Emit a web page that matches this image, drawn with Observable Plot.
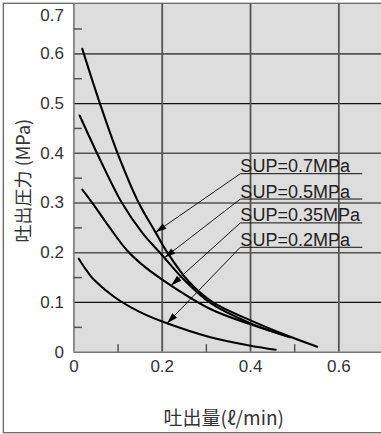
<!DOCTYPE html>
<html>
<head>
<meta charset="utf-8">
<script src="https://cdn.jsdelivr.net/npm/d3@7"></script>
<script src="https://cdn.jsdelivr.net/npm/@observablehq/plot@0.6"></script>
<style>
  html, body { margin: 0; padding: 0; background: #fff; }
  #chart { width: 381px; height: 434px; overflow: hidden; }
</style>
</head>
<body>
<div id="chart"></div>
<script>
// ---- data ----
const sup07 = [[0.019,0.61],[0.059,0.50],[0.099,0.40],[0.147,0.30],[0.185,0.241],[0.212,0.20],[0.26,0.142],[0.315,0.10],[0.40,0.064],[0.49,0.031],[0.551,0.011]];
const sup05 = [[0.013,0.476],[0.060,0.386],[0.109,0.30],[0.155,0.24],[0.195,0.20],[0.25,0.145],[0.309,0.099],[0.40,0.058],[0.49,0.030]];
const sup035 = [[0.019,0.327],[0.042,0.30],[0.08,0.252],[0.12,0.205],[0.16,0.172],[0.22,0.134],[0.309,0.087],[0.40,0.056],[0.49,0.030]];
const sup02 = [[0.011,0.188],[0.029,0.164],[0.045,0.146],[0.09,0.112],[0.151,0.080],[0.211,0.058],[0.309,0.030],[0.40,0.013],[0.457,0.005]];
const seriesNames = ["SUP=0.7MPa","SUP=0.5MPa","SUP=0.35MPa","SUP=0.2MPa"];
const seriesData = [sup07, sup05, sup035, sup02];
const labelX = 0.377, labelX2 = 0.653;
const labelY = [0.359, 0.308, 0.260, 0.211];
const tipX = [0.185, 0.205, 0.220, 0.211];
const tipY = [0.241, 0.190, 0.134, 0.058];
const yMajor = [0, 0.1, 0.2, 0.3, 0.4, 0.5, 0.6];
const yTop = [0.7];
const yMinor = [0.05, 0.15, 0.25, 0.35, 0.45, 0.55, 0.65];
const xMajor = [0, 0.2, 0.4, 0.6];
const xMinor = [0.1, 0.3, 0.5];
const gridBlack = [0.1, 0.3, 0.5];
const gridGrayY = [0.2, 0.4, 0.6];
const gridGrayX = [0.2, 0.4, 0.6];
const xTitle = "吐出量(ℓ/min)";
const yTitle = "吐出圧力 (MPa)";

// ---- layout ----
const W = 381, H = 434;
const xDom = [0, 0.7], xRng = [73.4, 382.5];
const yDom = [0, 0.7], yRng = [351.7, 3.6];
const sx = d3.scaleLinear(xDom, xRng), sy = d3.scaleLinear(yDom, yRng);
const minorLen = 8; // px

const rows = seriesData.flatMap((s, i) => s.map(([x, y]) => ({series: seriesNames[i], x, y})));
const notes = seriesNames.map((t, i) => ({text: t, x0: labelX, x2: labelX2, y0: labelY[i], x1: tipX[i], y1: tipY[i]}));
const minorYRows = yMinor.map(y => ({x1: 0, x2: sx.invert(sx(0) + minorLen), y}));
const minorXRows = xMinor.map(x => ({x, y1: 0, y2: sy.invert(sy(0) - minorLen)}));

function headSymbol(n) {
  let ux = sx(n.x1) - sx(n.x0), uy = sy(n.y1) - sy(n.y0);
  const len = Math.hypot(ux, uy); ux /= len; uy /= len;
  const L = 11, w = 3.3;
  return {draw(ctx) {
    ctx.moveTo(0, 0);
    ctx.lineTo(-L*ux + w*uy, -L*uy - w*ux);
    ctx.lineTo(-L*ux - w*uy, -L*uy + w*ux);
    ctx.closePath();
  }};
}

const font = "'Liberation Sans', Arial, sans-serif";
const cjk = "'Noto Sans CJK JP', 'Liberation Sans', sans-serif";
const fmt = d => d === 0 ? "0" : d.toFixed(1);

const outerBorder = () => d3.create("svg:rect")
    .attr("x", 3.3).attr("y", 3.3).attr("width", 420).attr("height", 429.4)
    .attr("fill", "none").attr("stroke", "#666").attr("stroke-width", 1.3).node();

const chart = Plot.plot({
  width: W, height: H,
  marginLeft: xRng[0], marginRight: 0, marginTop: yRng[1], marginBottom: H - yRng[0],
  x: {domain: xDom, range: xRng, axis: null},
  y: {domain: yDom, range: yRng, axis: null},
  style: {fontFamily: font, background: "#fff", color: "#333"},
  marks: [
    Plot.frame({fill: "#dddddd", stroke: null}),
    outerBorder,
    Plot.ruleY(gridBlack, {stroke: "#111", strokeWidth: 1.2}),
    Plot.ruleY(gridGrayY, {stroke: "#555", strokeWidth: 1.6}),
    Plot.ruleX(gridGrayX, {stroke: "#555", strokeWidth: 1.8}),
    Plot.ruleX([0], {stroke: "#777", strokeWidth: 1.6}),
    Plot.ruleY([0], {stroke: "#777", strokeWidth: 1.6}),
    Plot.link(minorYRows, {x1: "x1", x2: "x2", y1: "y", y2: "y", stroke: "#555", strokeWidth: 1.5}),
    Plot.link(minorXRows, {x1: "x", x2: "x", y1: "y1", y2: "y2", stroke: "#555", strokeWidth: 1.5}),
    Plot.axisY(yMajor, {tickSize: 0, tickPadding: 10, fontSize: 17, label: null, fill: "#333", tickFormat: fmt}),
    Plot.text(yTop, {y: d => d, frameAnchor: "left", dx: -10, dy: 11, textAnchor: "end", fontSize: 17, fill: "#333"}),
    Plot.axisX(xMajor, {tickSize: 0, tickPadding: 8, fontSize: 17, label: null, fill: "#333", tickFormat: fmt}),
    Plot.line(rows, {x: "x", y: "y", z: "series", curve: "catmull-rom", stroke: "#000", strokeWidth: 2.1}),
    Plot.link(notes, {x1: "x0", y1: "y0", x2: "x1", y2: "y1", stroke: "#000", strokeWidth: 0.9}),
    Plot.link(notes, {x1: "x0", y1: "y0", x2: "x2", y2: "y0", stroke: "#111", strokeWidth: 1}),
    ...notes.map(n => Plot.dot([n], {x: "x1", y: "y1", symbol: headSymbol(n), fill: "#000", stroke: null})),
    Plot.text(notes, {x: "x0", y: "y0", text: "text", textAnchor: "start", lineAnchor: "bottom", dx: 0, dy: -1.5, fontSize: 18, fill: "#222"}),
    Plot.text([yTitle], {frameAnchor: "left", textAnchor: "middle", lineAnchor: "middle", dx: -49.5, dy: 2.5, rotate: -90, fontSize: 18, fontFamily: cjk, fill: "#333"}),
    Plot.text([xTitle], {frameAnchor: "bottom", textAnchor: "middle", lineAnchor: "middle", dx: -4, dy: 67, fontSize: 19, fontFamily: cjk, fill: "#333"})
  ]
});
document.getElementById("chart").appendChild(chart);
</script>
</body>
</html>
